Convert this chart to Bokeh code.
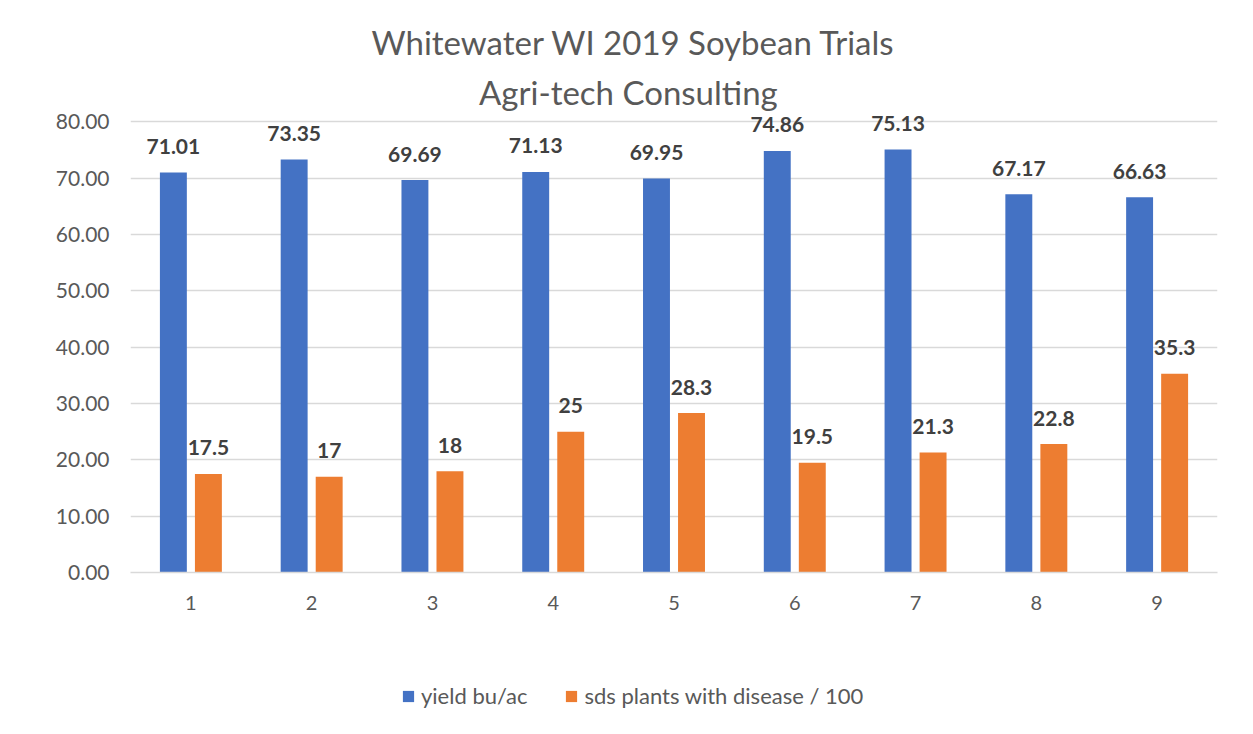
from bokeh.plotting import figure
from bokeh.layouts import column
from bokeh.models import (ColumnDataSource, FixedTicker, Legend, LegendItem,
                          NumeralTickFormatter, Range1d, Title)
from bokeh.transform import dodge
from bokeh.core.properties import value
from bokeh.embed import file_html
from bokeh.resources import INLINE

# ---- data ----
trials = [1, 2, 3, 4, 5, 6, 7, 8, 9]
yield_bu_ac = [71.01, 73.35, 69.69, 71.13, 69.95, 74.86, 75.13, 67.17, 66.63]
sds_per_100 = [17.5, 17, 18, 25, 28.3, 19.5, 21.3, 22.8, 35.3]
y_ticks = [0, 10, 20, 30, 40, 50, 60, 70, 80]
title_lines = ["Whitewater WI 2019 Soybean Trials", "Agri-tech Consulting"]
series_names = ["yield bu/ac", "sds plants with disease / 100"]

BLUE = "#4472C4"
ORANGE = "#ED7D31"
FONT = "Lato"

src = ColumnDataSource(dict(
    trial=trials,
    yld=yield_bu_ac,
    sds=sds_per_100,
    yld_lbl=[f"{v:.2f}" for v in yield_bu_ac],
    sds_lbl=[f"{v:g}" for v in sds_per_100],
))

# frame reaches a little above 80 so the tallest data labels are not clipped
p = figure(width=1237, height=640, output_backend="svg", toolbar_location=None,
           x_range=Range1d(0.5, 9.5), y_range=Range1d(0, 81.5),
           min_border_left=130, min_border_right=20, min_border_top=113,
           min_border_bottom=68)
p.outline_line_color = None
p.background_fill_color = "white"
p.border_fill_color = "white"

bw = 0.223
off = 0.145
r1 = p.vbar(x=dodge("trial", -off), top="yld", width=bw, source=src,
            fill_color=BLUE, line_color=None)
r2 = p.vbar(x=dodge("trial", off), top="sds", width=bw, source=src,
            fill_color=ORANGE, line_color=None)

lbl_kw = dict(source=src, text_align="center", text_baseline="alphabetic",
              text_font=value(FONT), text_font_style="bold", text_font_size="21px",
              text_color="#404040", y_offset=-26)
p.text(x=dodge("trial", -off), y="yld", text="yld_lbl", **lbl_kw)
p.text(x=dodge("trial", off), y="sds", text="sds_lbl", **lbl_kw)

# axes
p.xaxis.ticker = FixedTicker(ticks=trials)
p.xaxis.axis_line_color = "#d9d9d9"
p.xaxis.axis_line_width = 1.5
p.xaxis.major_tick_line_color = None
p.xaxis.minor_tick_line_color = None
p.xaxis.major_label_text_font = FONT
p.xaxis.major_label_text_font_size = "20px"
p.xaxis.major_label_text_color = "#595959"
p.xaxis.major_label_standoff = 17

p.yaxis.ticker = FixedTicker(ticks=y_ticks)
p.yaxis.formatter = NumeralTickFormatter(format="0.00")
p.yaxis.axis_line_color = None
p.yaxis.major_tick_line_color = None
p.yaxis.minor_tick_line_color = None
p.yaxis.major_label_text_font = FONT
p.yaxis.major_label_text_font_size = "21px"
p.yaxis.major_label_text_color = "#595959"
p.yaxis.major_label_standoff = 15

p.xgrid.grid_line_color = None
p.ygrid.grid_line_color = "#d9d9d9"
p.ygrid.grid_line_width = 1.5

# title (two lines, second one nearest the plot)
p.add_layout(Title(text=title_lines[1], align="left", offset=348.5, standoff=4,
                   text_font=FONT, text_font_size="33px", text_font_style="normal",
                   text_color="#595959"), "above")
p.add_layout(Title(text=title_lines[0], align="left", offset=241, standoff=11,
                   text_font=FONT, text_font_size="33px", text_font_style="normal",
                   text_color="#595959"), "above")

# legend strip below the chart (its own small frame so nothing is clipped);
# its renderers lie entirely outside its x and y ranges, so only the legend shows
lg = figure(width=1237, height=78, output_backend="svg", toolbar_location=None,
            x_range=Range1d(100, 101), y_range=Range1d(500, 600),
            x_axis_type=None, y_axis_type=None,
            min_border_left=0, min_border_right=0, min_border_top=0,
            min_border_bottom=0)
lg.outline_line_color = None
lg.background_fill_color = "white"
lg.border_fill_color = "white"
g1 = lg.vbar(x="trial", top="yld", width=bw, source=src, fill_color=BLUE, line_color=None)
g2 = lg.vbar(x="trial", top="sds", width=bw, source=src, fill_color=ORANGE, line_color=None)

legend = Legend(items=[LegendItem(label=series_names[0], renderers=[g1]),
                       LegendItem(label=series_names[1], renderers=[g2])],
                orientation="horizontal", location=(271, 9),
                glyph_width=14, glyph_height=14, label_standoff=6, spacing=37,
                padding=0, margin=0, border_line_color=None,
                background_fill_alpha=0,
                label_text_font=FONT, label_text_font_size="22px",
                label_text_color="#595959")
lg.add_layout(legend, "center")

layout = column(p, lg, spacing=0)
open("out.html", "w").write(file_html(layout, INLINE))
